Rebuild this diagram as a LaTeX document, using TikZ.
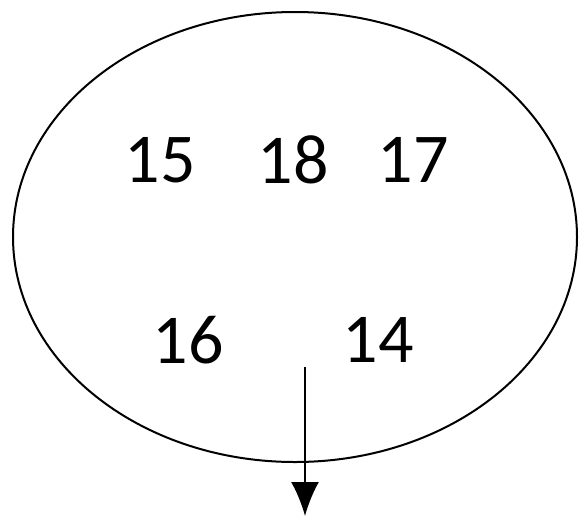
\documentclass[tikz,border=0pt]{standalone}
\usepackage{fontspec}
\setmainfont{Carlito}
\usetikzlibrary{arrows.meta}
\begin{document}
\begin{tikzpicture}[x=1pt, y=-1pt, line width=2pt, >={Latex[length=34pt,width=28pt]},
  num/.style={font=\fontsize{70}{84}\selectfont, inner sep=0pt}]
\useasboundingbox (0,0) rectangle (583,517);

\draw (295,237) ellipse (282 and 225);

\node[num] (n15) at (160,160){15};
\node[num] (n18) at (293,160){18};
\node[num] (n17) at (413,160){17};
\node[num] (n16) at (188,340){16};
\node[num] (n14) at (378,340){14};

\coordinate (top) at (305,367);
\coordinate (tip) at (305,516);
\draw[->] (top)--(tip);
\end{tikzpicture}
\end{document}
